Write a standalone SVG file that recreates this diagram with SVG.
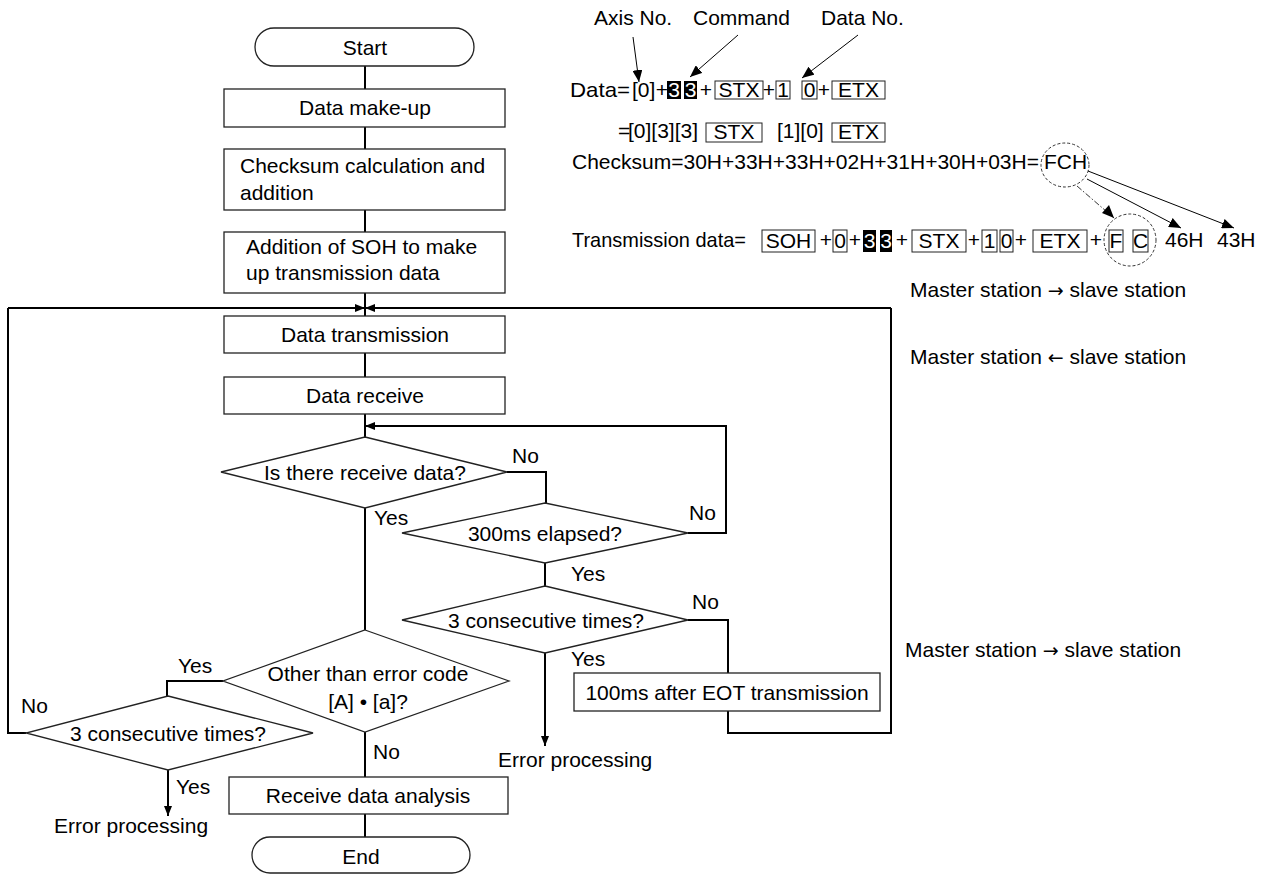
<svg xmlns="http://www.w3.org/2000/svg" width="1271" height="874" viewBox="0 0 1271 874">
<style>
text{font-family:"Liberation Sans",Arial,sans-serif;font-size:21px;fill:#000}
.m{text-anchor:middle}
.w{fill:#fff}
.ar{font-family:"DejaVu Sans",sans-serif;font-size:19px}
.box{fill:#fff;stroke:#222;stroke-width:1.3}
.cb{fill:none;stroke:#222;stroke-width:1}
.blk{fill:#000;stroke:none}
.c{fill:none;stroke:#000;stroke-width:2}
.a{fill:none;stroke:#000;stroke-width:1}
.d{fill:none;stroke:#333;stroke-width:1;stroke-dasharray:3 2}
.dd{fill:none;stroke:#333;stroke-width:1;stroke-dasharray:6 2 1.5 2}
</style>
<defs>
<marker id="ah" markerUnits="userSpaceOnUse" markerWidth="10" markerHeight="8" refX="10" refY="4" orient="auto"><path d="M0,0 L10,4 L0,8 z" fill="#000"/></marker>
<marker id="as" markerUnits="userSpaceOnUse" markerWidth="12" markerHeight="10" refX="12" refY="5" orient="auto"><path d="M0,0 L12,5 L0,10 z" fill="#000"/></marker>
</defs>
<rect width="1271" height="874" fill="#fff"/>
<g id="connectors">
<path class="c" d="M365,66 V89 M365,127 V149 M365,210 V232 M365,293 V316 M365,353 V377 M365,414 V437"/>
<path class="c" d="M8,308 H365" marker-end="url(#ah)"/>
<path class="c" d="M891,308 H365" marker-end="url(#ah)"/>
<path class="c" d="M26,733 H8 V308"/>
<path class="c" d="M728,711 V733 H891 V308"/>
<path class="c" d="M688,533 H726 V426 H365" marker-end="url(#ah)"/>
<path class="c" d="M507,472 H546 V503"/>
<path class="c" d="M545,563 V586"/>
<path class="c" d="M688,620 H728 V673"/>
<path class="c" d="M545,653 V746" marker-end="url(#ah)"/>
<path class="c" d="M365,508 V630"/>
<path class="c" d="M223,681 H167 V696"/>
<path class="c" d="M168,770 V816" marker-end="url(#ah)"/>
<path class="c" d="M365,732 V777 M365,814 V837"/>
</g>
<g id="start"><rect class="box" x="255" y="28" width="219" height="38" rx="19"/><text class="m" x="365" y="55">Start</text></g>
<g id="makeup"><rect class="box" x="224" y="89" width="281" height="38"/><text class="m" x="365" y="115">Data make-up</text></g>
<g id="checksum"><rect class="box" x="224" y="149" width="281" height="61"/><text x="240" y="173">Checksum calculation and</text><text x="240" y="200">addition</text></g>
<g id="soh"><rect class="box" x="224" y="232" width="281" height="61"/><text x="246" y="254">Addition of SOH to make</text><text x="246" y="280">up transmission data</text></g>
<g id="transmit"><rect class="box" x="224" y="316" width="281" height="37"/><text class="m" x="365" y="342">Data transmission</text></g>
<g id="receive"><rect class="box" x="224" y="377" width="281" height="37"/><text class="m" x="365" y="403">Data receive</text></g>
<g id="d1"><path class="box" d="M365,437 L507,472 L365,508 L221,472 Z"/><text class="m" x="365" y="480">Is there receive data?</text><text x="512" y="463">No</text><text x="374" y="525">Yes</text></g>
<g id="d2"><path class="box" d="M545,503 L688,533 L545,563 L402,533 Z"/><text class="m" x="545" y="541">300ms elapsed?</text><text x="689" y="520">No</text><text x="571" y="581">Yes</text></g>
<g id="d3"><path class="box" d="M545,586 L688,620 L545,653 L402,620 Z"/><text class="m" x="546" y="628">3 consecutive times?</text><text x="692" y="609">No</text><text x="571" y="666">Yes</text></g>
<g id="eot"><rect class="box" x="574" y="673" width="306" height="38"/><text class="m" x="727" y="700">100ms after EOT transmission</text></g>
<g id="err1"><text x="498" y="767">Error processing</text></g>
<g id="d4"><path class="box" d="M365,630 L509,681 L365,732 L223,681 Z"/><text class="m" x="368" y="681">Other than error code</text><text class="m" x="368" y="709">[A] • [a]?</text><text x="178" y="673">Yes</text><text x="373" y="759">No</text></g>
<g id="d5"><path class="box" d="M168,696 L313,733 L168,770 L26,733 Z"/><text class="m" x="168" y="741">3 consecutive times?</text><text x="21" y="713">No</text><text x="176" y="794">Yes</text></g>
<g id="err2"><text x="54" y="833">Error processing</text></g>
<g id="analysis"><rect class="box" x="229" y="777" width="279" height="37"/><text class="m" x="368" y="803">Receive data analysis</text></g>
<g id="end"><rect class="box" x="252" y="837" width="218" height="36" rx="18"/><text class="m" x="361" y="864">End</text></g>
<g id="annotation">
<text x="594" y="25">Axis No.</text><text x="693" y="25">Command</text><text x="821" y="25">Data No.</text>
<path class="a" d="M633,37 L639,82" marker-end="url(#as)"/>
<path class="a" d="M738,35 L690,77" marker-end="url(#as)"/>
<path class="a" d="M858,35 L802,78" marker-end="url(#as)"/>
<text x="570" y="97" textLength="60" lengthAdjust="spacingAndGlyphs">Data=</text><text x="632" y="97">[0]</text><text class="m" x="662" y="97">+</text>
<rect class="blk" x="667" y="81" width="14" height="18"/><text class="m w" x="674" y="97">3</text>
<rect class="blk" x="684" y="81" width="13" height="18"/><text class="m w" x="690.5" y="97">3</text>
<text class="m" x="706" y="97">+</text>
<rect class="cb" x="715" y="81" width="48" height="18"/><text class="m" x="739" y="97">STX</text>
<text class="m" x="769" y="97">+</text>
<rect class="cb" x="776" y="81" width="14" height="18"/><text class="m" x="783" y="97">1</text>
<rect class="cb" x="802" y="81" width="15" height="18"/><text class="m" x="809.5" y="97">0</text>
<text class="m" x="824" y="97">+</text>
<rect class="cb" x="832" y="81" width="53" height="18"/><text class="m" x="858.5" y="97">ETX</text>
<text x="618" y="138">=</text><text x="628" y="138">[0][3][3]</text>
<rect class="cb" x="706" y="123" width="56" height="19"/><text class="m" x="734" y="139">STX</text>
<text x="777" y="138">[1][0]</text>
<rect class="cb" x="832" y="123" width="53" height="19"/><text class="m" x="858.5" y="139">ETX</text>
<text x="572" y="169">Checksum=30H+33H+33H+02H+31H+30H+03H=</text>
<text x="1044" y="169">FCH</text>
<ellipse class="d" cx="1065" cy="165" rx="24" ry="22"/>
<path class="a" d="M1087,179 L1181,228" marker-end="url(#as)"/>
<path class="a" d="M1088,171 L1234,228" marker-end="url(#as)"/>
<path class="dd" d="M1077,186 L1114,218"/>
<path d="M1114,218 L1102,213 L1109,205 z" fill="#000"/>
<text x="572" y="247" textLength="174" lengthAdjust="spacingAndGlyphs">Transmission data=</text>
<rect class="cb" x="762" y="230" width="53" height="22"/><text class="m" x="788.5" y="248">SOH</text>
<text class="m" x="826" y="247">+</text>
<rect class="cb" x="833" y="230" width="14" height="22"/><text class="m" x="840" y="248">0</text>
<text class="m" x="855" y="247">+</text>
<rect class="blk" x="863" y="230" width="13" height="22"/><text class="m w" x="869.5" y="248">3</text>
<rect class="blk" x="880" y="230" width="12" height="22"/><text class="m w" x="886" y="248">3</text>
<text class="m" x="902" y="247">+</text>
<rect class="cb" x="912" y="230" width="54" height="22"/><text class="m" x="939" y="248">STX</text>
<text class="m" x="974" y="247">+</text>
<rect class="cb" x="982" y="230" width="15" height="22"/><text class="m" x="989.5" y="248">1</text>
<rect class="cb" x="1000" y="230" width="13" height="22"/><text class="m" x="1006.5" y="248">0</text>
<text class="m" x="1021" y="247">+</text>
<rect class="cb" x="1033" y="230" width="54" height="22"/><text class="m" x="1060" y="248">ETX</text>
<text class="m" x="1096" y="247">+</text>
<ellipse class="d" cx="1130" cy="240" rx="26" ry="26"/>
<rect class="cb" x="1109" y="230" width="14" height="22"/><text class="m" x="1116" y="248">F</text>
<rect class="cb" x="1133" y="230" width="15" height="22"/><text class="m" x="1140.5" y="248">C</text>
<text x="1165" y="247">46H</text><text x="1217" y="247">43H</text>
<text x="910" y="297">Master station <tspan class="ar">→</tspan> slave station</text>
<text x="910" y="364">Master station <tspan class="ar">←</tspan> slave station</text>
<text x="905" y="657">Master station <tspan class="ar">→</tspan> slave station</text>
</g>
</svg>
